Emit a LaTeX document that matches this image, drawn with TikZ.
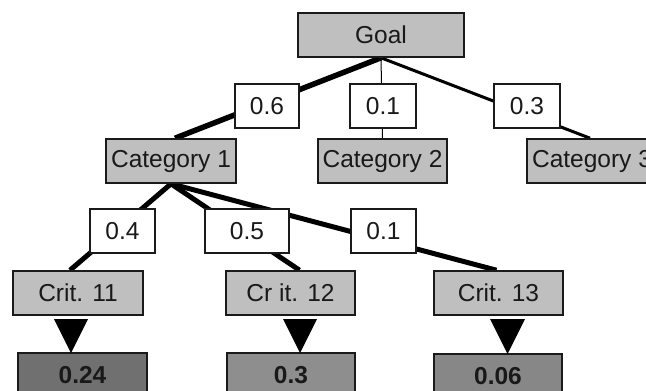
\documentclass[tikz,border=0pt]{standalone}
\usepackage{fontspec}
\setmainfont{Liberation Sans}
\usetikzlibrary{calc,backgrounds}
\definecolor{boxgray}{HTML}{BFBFBF}
\definecolor{res1}{HTML}{707070}
\definecolor{res2}{HTML}{8E8E8E}
\definecolor{res3}{HTML}{878787}
\definecolor{edgec}{HTML}{1A1A1A}
\begin{document}
\begin{tikzpicture}[x=1pt,y=-1pt,
  base/.style={draw=edgec,line width=1.6pt,inner sep=0pt,minimum height=44pt,
    font=\fontsize{24.5}{28}\selectfont,text=black!90},
  catbox/.style={base,fill=boxgray,minimum width=130pt},
  wbox/.style={base,fill=white,minimum width=65pt},
  resbox/.style={base,minimum width=129pt,font=\fontsize{24.5}{28}\selectfont\bfseries},
  link/.style={draw=black,line cap=butt},
  tri/.style={fill=black}
]
\useasboundingbox (0,0) rectangle (646,391);
\clip (0,0) rectangle (646,391);

\node[catbox,minimum width=166pt] (goal) at (381,35) {Goal};
\node[wbox,minimum width=64pt] (l06) at (267,106) {0.6};
\node[wbox,minimum width=66pt] (l01a) at (383,106) {0.1};
\node[wbox,minimum width=66pt] (l03) at (527,106) {0.3};
\node[catbox] (cat1) at (171,161) {Category 1};
\node[catbox,minimum width=129pt] (cat2) at (382.5,161) {Category 2};
\node[catbox] (cat3) at (592,161) {Category 3};
\node[wbox] (l04) at (122.5,231) {0.4};
\node[wbox,minimum width=84pt] (l05) at (247,231) {0.5};
\node[wbox] (l01b) at (383.5,231) {0.1};
\node[catbox] (c11) at (78,293) {Crit. 11};
\node[catbox,minimum width=129pt] (c12) at (290.5,293) {Cr it. 12};
\node[catbox,minimum width=129pt] (c13) at (498.5,293) {Crit. 13};
\node[resbox,fill=res1] (r11) at (82.5,375) {0.24};
\node[resbox,fill=res2,minimum width=128pt] (r12) at (291,375) {0.3};
\node[resbox,fill=res3,minimum width=128pt] (r13) at (498,376) {0.06};

\begin{pgfonlayer}{background}
  \draw[link,line width=5.5pt] (goal.south) -- ($(cat1.north)+(4,0)$);
  \draw[link,line width=1pt] (goal.south) -- (cat2.north);
  \draw[link,line width=3pt] (goal.south) -- ($(cat3.north)+(-2,0)$);
  \draw[link,line width=5pt] (cat1.south) -- ($(c11.north)+(-8,0)$);
  \draw[link,line width=5pt] (cat1.south) -- ($(c12.north)+(9,0)$);
  \draw[link,line width=5pt] (cat1.south) -- ($(c13.north)+(-2,0)$);
\end{pgfonlayer}

\coordinate (t1a) at (54,319); \coordinate (t1b) at (88,319); \coordinate (t1c) at (71,353);
\coordinate (t2a) at (283,319); \coordinate (t2b) at (317,319); \coordinate (t2c) at (300,353);
\coordinate (t3a) at (490,319); \coordinate (t3b) at (525,319); \coordinate (t3c) at (507.5,354);
\fill[tri] (t1a) -- (t1b) -- (t1c) -- cycle;
\fill[tri] (t2a) -- (t2b) -- (t2c) -- cycle;
\fill[tri] (t3a) -- (t3b) -- (t3c) -- cycle;
\end{tikzpicture}
\end{document}
